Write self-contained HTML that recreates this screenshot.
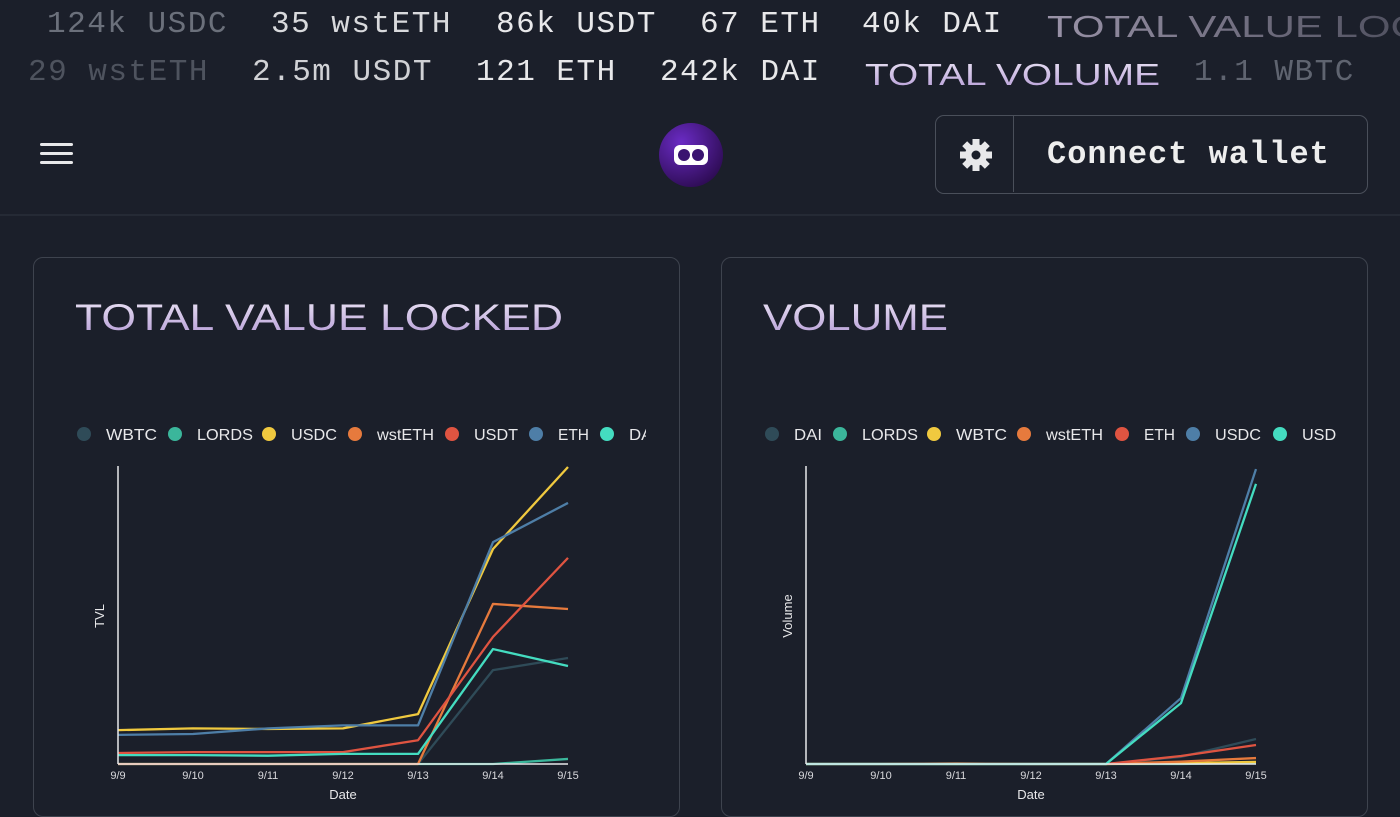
<!DOCTYPE html>
<html><head><meta charset="utf-8">
<style>
*{margin:0;padding:0;box-sizing:border-box}
body{width:1400px;height:800px;background:#1b1f2a;overflow:hidden;position:relative;font-family:"Liberation Sans",sans-serif;color:#e8e8ea}
.tk{position:absolute;font-family:"Liberation Mono",monospace;font-size:31px;white-space:nowrap;letter-spacing:1.5px}
.card{position:absolute;border:1.5px solid #3e434e;border-radius:10px;top:257px;height:560px}
svg text{font-family:"Liberation Sans",sans-serif}
</style></head><body>
<svg width="0" height="0" style="position:absolute"><defs>
<linearGradient id="tg" x1="0" y1="0" x2="0" y2="1"><stop offset="0" stop-color="#ece6f5"/><stop offset="1" stop-color="#b49ad6"/></linearGradient>
<linearGradient id="fade" x1="0" y1="0" x2="1" y2="0"><stop offset="0" stop-color="#9a93a8"/><stop offset="1" stop-color="#3a3d4a"/></linearGradient>
<radialGradient id="lg" cx="0.35" cy="0.3" r="0.8"><stop offset="0" stop-color="#6a2bc4"/><stop offset="1" stop-color="#2a0a4d"/></radialGradient>
</defs></svg>

<div>
<span class="tk" style="left:47px;top:7px;color:#6b707b">124k USDC</span>
<span class="tk" style="left:271px;top:7px;color:#d8d9dc">35 wstETH</span>
<span class="tk" style="left:496px;top:7px;color:#e8e8ea">86k USDT</span>
<span class="tk" style="left:700px;top:7px;color:#e8e8ea">67 ETH</span>
<span class="tk" style="left:862px;top:7px;color:#e8e8ea">40k DAI</span>
<svg style="position:absolute;left:1047px;top:7px" width="360" height="40"><text x="0" y="30" font-size="31" fill="url(#fade)" textLength="460" lengthAdjust="spacingAndGlyphs">TOTAL VALUE LOCKED</text></svg>
</div>
<div>
<span class="tk" style="left:28px;top:55px;color:#4e535e">29 wstETH</span>
<span class="tk" style="left:252px;top:55px;color:#d0d1d5">2.5m USDT</span>
<span class="tk" style="left:476px;top:55px;color:#e8e8ea">121 ETH</span>
<span class="tk" style="left:660px;top:55px;color:#e8e8ea">242k DAI</span>
<svg style="position:absolute;left:865px;top:55px" width="300" height="40"><text x="0" y="30" font-size="31" fill="url(#tg)" textLength="295" lengthAdjust="spacingAndGlyphs">TOTAL VOLUME</text></svg>
<span class="tk" style="left:1194px;top:55px;color:#5f6470">1.1 WBTC</span>
</div>

<div style="position:absolute;left:40px;top:143px;width:33px;height:24px">
<div style="height:3px;background:#e8e8ea;border-radius:2px;margin-bottom:6px"></div>
<div style="height:3px;background:#e8e8ea;border-radius:2px;margin-bottom:6px"></div>
<div style="height:3px;background:#e8e8ea;border-radius:2px"></div>
</div>
<svg style="position:absolute;left:659px;top:123px" width="64" height="64">
<circle cx="32" cy="32" r="32" fill="url(#lg)"/>
<rect x="15" y="22" width="34" height="20" rx="6" fill="#fff"/>
<circle cx="25" cy="32" r="6" fill="#3a1470"/><circle cx="39" cy="32" r="6" fill="#3a1470"/>
</svg>
<div style="position:absolute;left:935px;top:115px;width:433px;height:79px;border:1.5px solid #4a4f5a;border-radius:9px">
<div style="position:absolute;left:0;top:0;width:78px;height:76px;border-right:1.5px solid #4a4f5a">
<svg width="78" height="76"><g transform="translate(40,39)" fill="#e8e8ea">
<circle r="11"/><g id="t"><rect x="-3.5" y="-16" width="7" height="8"/></g>
<use href="#t" transform="rotate(45)"/><use href="#t" transform="rotate(90)"/><use href="#t" transform="rotate(135)"/><use href="#t" transform="rotate(180)"/><use href="#t" transform="rotate(225)"/><use href="#t" transform="rotate(270)"/><use href="#t" transform="rotate(315)"/>
<circle r="4.5" fill="#1b1f2a"/></g></svg>
</div>
<div style="position:absolute;left:111px;top:20px;font-family:'Liberation Mono',monospace;font-size:32px;font-weight:bold;color:#eeeeee;letter-spacing:1px;white-space:nowrap">Connect wallet</div>
</div>
<div style="position:absolute;left:0;top:214px;width:1400px;height:2px;background:#252a35"></div>

<div class="card" style="left:33px;width:647px"></div>
<div class="card" style="left:721px;width:647px"></div>

<svg id="tvl" style="position:absolute;left:0;top:0" width="700" height="800"></svg>
<svg id="vol" style="position:absolute;left:0;top:0" width="1400" height="800"></svg>

<script>
const dates=["9/9","9/10","9/11","9/12","9/13","9/14","9/15"];
const colors={WBTC:"#2f4b58",LORDS:"#3bb69b",USDC:"#f0c93f",wstETH:"#e67a3d",USDT:"#df5441",ETH:"#4e7ea7",DAI:"#44dcc0"};
const tvlSeries=["WBTC","LORDS","USDC","wstETH","USDT","ETH","DAI"];
const tvlWBTC=[0,0,0,0,0,31.6,35.7];
const tvlLORDS=[0,0,0,0,0,0,1.7];
const tvlUSDC=[11.4,12,11.8,12,16.8,72.4,100];
const tvlWstETH=[0,0,0,0,0,53.9,52.2];
const tvlUSDT=[3.7,4,4,4,8,42.8,69.4];
const tvlETH=[9.8,10.1,12,13,13,74.7,87.9];
const tvlDAI=[3,3,2.8,3.4,3.4,38.7,33];
const volSeries=["DAI","LORDS","WBTC","wstETH","ETH","USDC","USDT"];
const volDAI=[0,0,0,0,0,2.4,8.4];
const volLORDS=[0,0,0,0,0,0,0.3];
const volWBTC=[0,0,0,0,0,0.3,0.7];
const volWstETH=[0,0,0.2,0,0,0.8,2];
const volETH=[0,0,0,0,0,2.7,6.4];
const volUSDC=[0,0,0,0,0,22.2,99.3];
const volUSDT=[0,0,0,0,0,20.5,94.3];
const volColors={DAI:"#2f4b58",LORDS:"#3bb69b",WBTC:"#f0c93f",wstETH:"#e67a3d",ETH:"#df5441",USDC:"#4e7ea7",USDT:"#44dcc0"};
const labelW={WBTC:51,LORDS:56,USDC:46,wstETH:57,USDT:44,ETH:31,DAI:28};
const NS="http://www.w3.org/2000/svg";
function mk(svg,tag,attrs,txt){const e=document.createElementNS(NS,tag);for(const k in attrs)e.setAttribute(k,attrs[k]);if(txt!==undefined)e.textContent=txt;svg.appendChild(e);return e;}
function draw(svg,cfg){
  const x0=cfg.x0,x1=cfg.x0+450,yb=764,yt=467,ymax=100;
  const xs=i=>x0+i*(x1-x0)/(dates.length-1);
  const ys=v=>yb-v/ymax*(yb-yt);
  const t=mk(svg,"text",{x:cfg.tx,y:330,"font-size":37,fill:"url(#tg)",textLength:cfg.tw,lengthAdjust:"spacingAndGlyphs"},cfg.title);
  
  
  cfg.names.forEach((n,i)=>{
    const g=mk(svg,"g",{});
    
    
    mk(g,"circle",{cx:cfg.lc[i],cy:434,r:7,fill:cfg.colors[n]});
    mk(g,"text",{x:cfg.lc[i]+22,y:440,"font-size":16,fill:"#e8e8ea",textLength:labelW[n],lengthAdjust:"spacingAndGlyphs"},n);
  });
  mk(svg,"rect",{x:cfg.clipX,y:415,width:cfg.clipW,height:30,fill:"#1b1f2a"});
  cfg.names.forEach((n,i)=>{
    const vals=cfg.data[i];
    const p=mk(svg,"polyline",{points:vals.map((v,j)=>xs(j)+","+ys(v)).join(" "),fill:"none",stroke:cfg.colors[n],"stroke-width":2.3,"stroke-linejoin":"round"});
    
    
  });
  const ax=mk(svg,"line",{x1:x0,y1:yt-1,x2:x0,y2:yb,stroke:"#e8e8ea","stroke-width":1.5});
  
  
  const bx=mk(svg,"line",{x1:x0,y1:yb,x2:x1,y2:yb,stroke:"#e8e8ea","stroke-width":1.5});
  
  
  dates.forEach((d,i)=>{
    const tl=mk(svg,"text",{x:xs(i),y:779,"font-size":11,fill:"#d8d8dc","text-anchor":"middle","font-family":"Liberation Mono, monospace"},d);
    
    
  });
  const xl=mk(svg,"text",{x:(x0+x1)/2,y:799,"font-size":13,fill:"#e8e8ea","text-anchor":"middle"},"Date");
  
  
  const yl=mk(svg,"text",{x:0,y:0,"font-size":13,fill:"#e8e8ea","text-anchor":"middle",transform:`translate(${cfg.ylx},${616}) rotate(-90)`},cfg.ylab);
  
  
}
draw(document.getElementById("tvl"),{x0:118,title:"TOTAL VALUE LOCKED",tx:75,tw:488,names:tvlSeries,colors:colors,
  data:[tvlWBTC,tvlLORDS,tvlUSDC,tvlWstETH,tvlUSDT,tvlETH,tvlDAI],lc:[84,175,269,355,452,536,607],clipX:646,clipW:32,ylx:104,ylab:"TVL"});
draw(document.getElementById("vol"),{x0:806,title:"VOLUME",tx:763,tw:185,names:volSeries,colors:volColors,
  data:[volDAI,volLORDS,volWBTC,volWstETH,volETH,volUSDC,volUSDT],lc:[772,840,934,1024,1122,1193,1280],clipX:1336,clipW:30,ylx:792,ylab:"Volume"});
</script>
</body></html>
